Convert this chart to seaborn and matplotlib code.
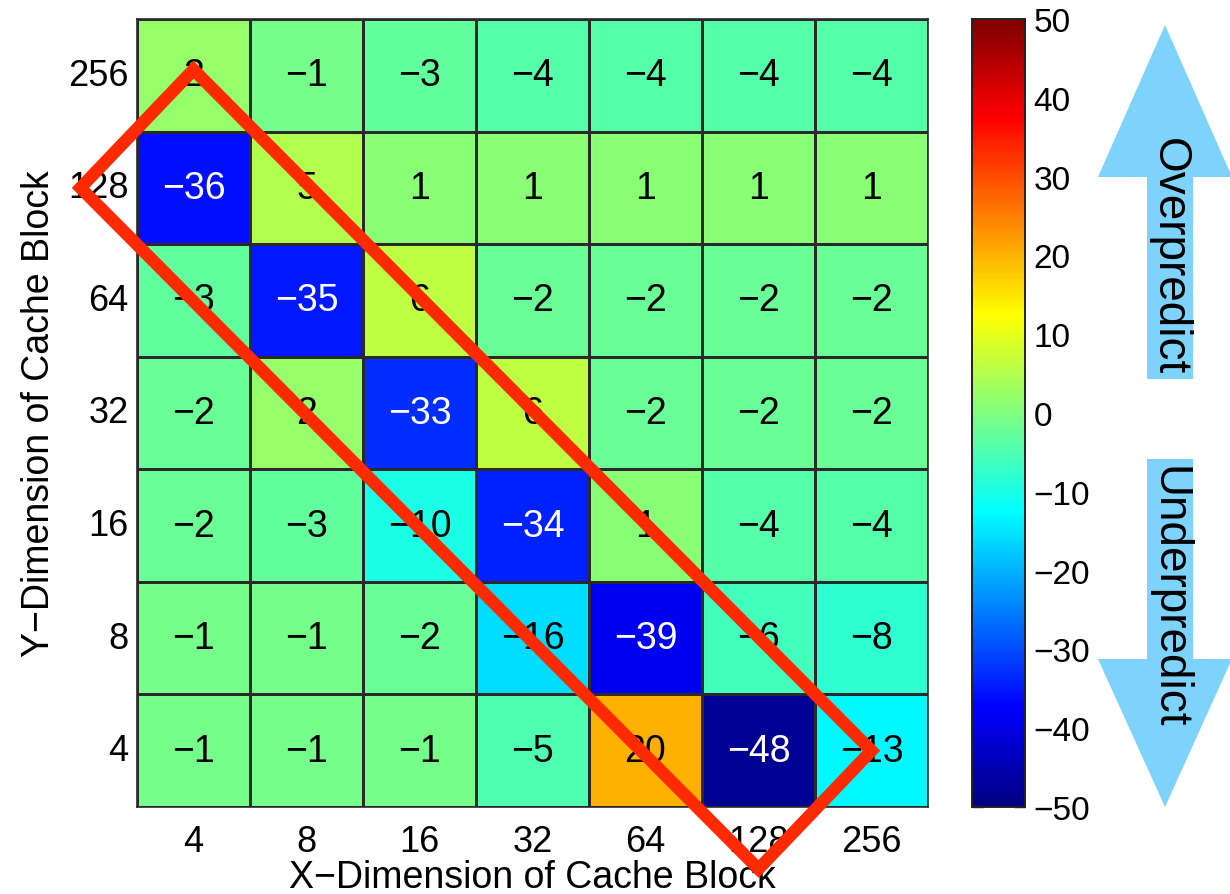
import numpy as np
import pandas as pd
import seaborn as sns
import matplotlib
matplotlib.use("Agg")
import matplotlib.pyplot as plt
from matplotlib.patches import Polygon
from matplotlib.colors import ListedColormap

# Block sizes along each dimension
x_dims = ["4", "8", "16", "32", "64", "128", "256"]
y_dims = ["256", "128", "64", "32", "16", "8", "4"]

# Prediction error (%) per cache block shape, rows listed from Y=256 down to Y=4
row_256 = [2, -1, -3, -4, -4, -4, -4]
row_128 = [-36, 5, 1, 1, 1, 1, 1]
row_64 = [-3, -35, 6, -2, -2, -2, -2]
row_32 = [-2, 2, -33, 6, -2, -2, -2]
row_16 = [-2, -3, -10, -34, 1, -4, -4]
row_8 = [-1, -1, -2, -16, -39, -6, -8]
row_4 = [-1, -1, -1, -5, 20, -48, -13]

cbar_ticks = [-50, -40, -30, -20, -10, 0, 10, 20, 30, 40, 50]


def classic_jet(n=256):
    """Piecewise-linear jet colormap (dark blue -> cyan -> yellow -> dark red)."""
    x = np.linspace(0, 1, n)
    r = np.clip(np.minimum(4 * x - 1.5, -4 * x + 4.5), 0, 1)
    g = np.clip(np.minimum(4 * x - 0.5, -4 * x + 3.5), 0, 1)
    b = np.clip(np.minimum(4 * x + 0.5, -4 * x + 2.5), 0, 1)
    return ListedColormap(np.column_stack([r, g, b]), name="classic_jet")


sns.set_theme(style="white")
plt.rcParams["font.family"] = ["Liberation Sans", "DejaVu Sans"]

err = pd.DataFrame([row_256, row_128, row_64, row_32, row_16, row_8, row_4],
                   index=y_dims, columns=x_dims)
labels = err.map(lambda v: str(v).replace("-", "\u2212"))

fig = plt.figure(figsize=(12.3, 8.95), dpi=100)
ax = fig.add_axes([137 / 1230, 87 / 895, 791 / 1230, 788 / 895])
cax = fig.add_axes([972 / 1230, 87 / 895, 53 / 1230, 788 / 895])

sns.heatmap(err, ax=ax, cbar_ax=cax, cmap=classic_jet(),
            vmin=-50, vmax=50, annot=labels, fmt="",
            annot_kws={"fontsize": 27},
            linewidths=1.0, linecolor="#2a2a2a")

# white labels on the deep blue cells
vals = err.values.ravel()
for txt, v in zip(ax.texts, vals):
    txt.set_color("white" if v <= -30 else "black")

for side in ax.spines.values():
    side.set_visible(True)
    side.set_color("#2a2a2a")
    side.set_linewidth(1.2)

ax.tick_params(axis="both", length=0, labelsize=26, labelcolor="black")
ax.tick_params(axis="x", pad=12)
ax.tick_params(axis="y", pad=6)
ax.set_yticklabels(y_dims, rotation=0)
ax.set_xticklabels(x_dims, rotation=0)
ax.set_xlabel("X\u2212Dimension of Cache Block", fontsize=27, labelpad=0,
              color="black")
ax.set_ylabel("Y\u2212Dimension of Cache Block", fontsize=27, labelpad=8,
              color="black")

# highlighted diagonal band
band = Polygon([(0.5, 0.45), (6.5, 6.5), (5.5, 7.55), (-0.5, 1.5)], closed=True,
               fill=False, edgecolor="#ff2a00", linewidth=9, joinstyle="miter",
               clip_on=False, zorder=10)
ax.add_patch(band)

# colorbar styling
cax.set_yticks(cbar_ticks)
cax.set_yticklabels([str(t).replace("-", "\u2212") for t in cbar_ticks])
cax.tick_params(axis="y", direction="in", left=True, right=True, length=8,
                width=1, labelsize=24, pad=6, color="#222222",
                labelcolor="black")
for side in cax.spines.values():
    side.set_visible(True)
    side.set_color("#222222")
    side.set_linewidth(1.2)

# direction arrows beside the colorbar
ov = fig.add_axes([0, 0, 1, 1], zorder=5)
ov.set_xlim(0, 1230)
ov.set_ylim(895, 0)
ov.axis("off")
arrow_color = "#7dd3fb"
up = [(1165, 26), (1232, 178), (1193, 178), (1193, 380), (1147, 380),
      (1147, 178), (1098, 178)]
down = [(1147, 460), (1193, 460), (1193, 660), (1232, 660), (1165, 808),
        (1098, 660), (1147, 660)]
ov.add_patch(Polygon(up, closed=True, facecolor=arrow_color, edgecolor="none"))
ov.add_patch(Polygon(down, closed=True, facecolor=arrow_color, edgecolor="none"))
ov.text(1169, 257, "Overpredict", rotation=-90, ha="center", va="center",
        fontsize=33, color="black")
ov.text(1169, 597, "Underpredict", rotation=-90, ha="center", va="center",
        fontsize=33, color="black")

fig.savefig("out.png", dpi=100)
